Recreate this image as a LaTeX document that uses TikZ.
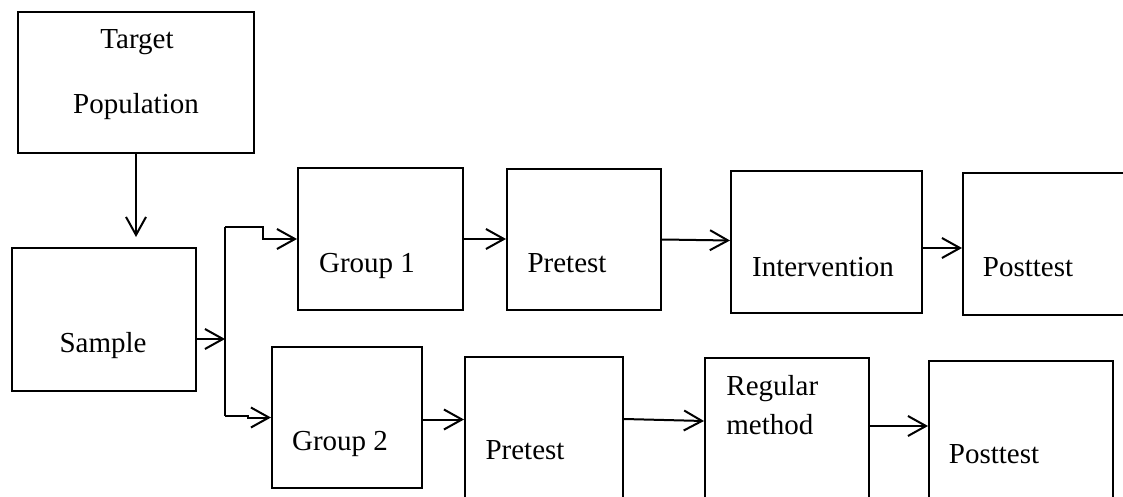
\documentclass[tikz,border=0pt]{standalone}
\usepackage{fontspec}
\setmainfont{Liberation Serif}
\usetikzlibrary{positioning}
\usetikzlibrary{arrows.meta}
\tikzset{x=0.5pt, y=-0.5pt, % One unit is one pixel of the layout, y runs downwards
box/.style={ % Sets the properties for each box
draw,
line width=1pt,
inner sep=0pt},
txt/.style={ % Text inside the boxes
font=\fontsize{14.5}{17.5}\selectfont,
inner sep=0pt,
anchor=base},
arr/.style={ % Sets the properties for each connector
draw,
line width=1pt,
-{Straight Barb[length=9pt,width=10pt,line width=1pt]}}}

\begin{document}
\begin{tikzpicture}
                \path[use as bounding box] (0,0) rectangle (1123,497);
                \clip (0,0) rectangle (1123,497);

                % boxes
                \node[box, minimum width=118pt, minimum height=70.5pt] (tp) at (136,82.5) {};
                \node[box, minimum width=92pt, minimum height=71.5pt] (smp) at (104,319.5) {};
                \node[box, minimum width=82.5pt, minimum height=70.5pt] (g1) at (380.5,239) {};
                \node[box, minimum width=77pt, minimum height=70.5pt] (pre1) at (584,239.5) {};
                \node[box, minimum width=95.5pt, minimum height=71pt] (int) at (826.5,242) {};
                \node[box, minimum width=93.5pt, minimum height=71pt] (post1) at (1056.5,244) {};
                \node[box, minimum width=75pt, minimum height=70.5pt] (g2) at (347,417.5) {};
                \node[box, minimum width=79pt, minimum height=75pt] (pre2) at (544,432) {};
                \node[box, minimum width=82pt, minimum height=75pt] (reg) at (787,433) {};
                \node[box, minimum width=92pt, minimum height=75pt] (post2) at (1021,436) {};

                % texts
                \node[txt] (tpa) at (137,49) {Target};
                \node[txt] (tpb) at (136,114) {Population};
                \node[txt] (smpt) at (103,352) {Sample};
                \node[txt] (g1t) at (367,272) {Group 1};
                \node[txt] (pre1t) at (567,272) {Pretest};
                \node[txt] (intt) at (823,276) {Intervention};
                \node[txt] (post1t) at (1028,277) {Posttest};
                \node[txt] (g2t) at (340,450) {Group 2};
                \node[txt] (pre2t) at (525,459) {Pretest};
                \node[txt, anchor=base west] (rega) at (726,395) {Regular};
                \node[txt, anchor=base west] (regb) at (726,434) {method};
                \node[txt] (post2t) at (994,463) {Posttest};

                % split
                \coordinate (split) at (225,339);
                \coordinate (st) at (225,227);
                \coordinate (sb) at (225,416);

                % connectors
                \draw[arr, shorten >=5pt] (tp.south) -- (tp.south |- smp.north);
                \draw[arr] (smp.east |- split) -- (split);
                \draw[line width=1pt] (st) -- (sb);
                \draw[arr] (st) -- ++(38,0) |- (g1.west);
                \draw[arr] (sb) -- ++(23,0) |- (g2.west);
                \draw[arr] (g1.east) -- (g1.east -| pre1.west);
                \draw[arr] (pre1.east) -- ([yshift=-0.5pt]pre1.east -| int.west);
                \draw[arr] ([yshift=-3pt]int.east) -- ([yshift=-3pt]int.east -| post1.west);
                \draw[arr] ([yshift=-1pt]g2.east) -- ([yshift=-1pt]g2.east -| pre2.west);
                \draw[arr] ([yshift=6.5pt]pre2.east) -- ([yshift=6pt]reg.west);
                \draw[arr] ([yshift=3.5pt]reg.east) -- ([yshift=3.5pt]reg.east -| post2.west);


            \end{tikzpicture}
\end{document}
